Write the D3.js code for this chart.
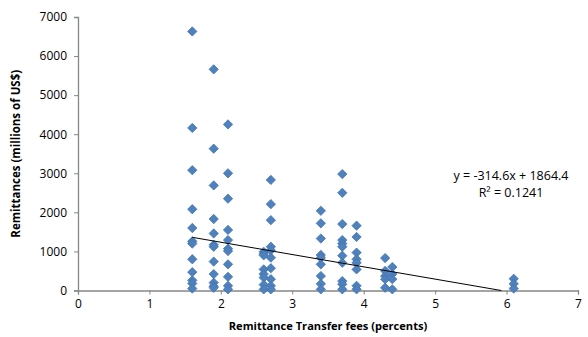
<!DOCTYPE html>
<html>
<head>
<meta charset="utf-8">
<script src="https://cdn.jsdelivr.net/npm/d3@7"></script>
<style>
  body { margin: 0; background: #fff; }
  text { font-family: "Open Sans", "Liberation Sans", sans-serif; }
</style>
</head>
<body>
<div id="chart"></div>
<script>
// Remittances vs transfer fees, with Excel-style linear trendline

// fee level of each column of points (percent)
const fees = [1.6, 1.9, 2.1, 2.6, 2.7, 3.4, 3.7, 3.9, 4.3, 4.4, 6.1];

// remittances (millions of US$), one list per fee level
const remittances = [
    [6630, 4160, 3080, 2080, 1600, 1260, 1200, 800, 470, 260, 180, 50],
    [5660, 3630, 2690, 1830, 1460, 1170, 1120, 740, 420, 200, 110, 70],
    [4250, 3000, 2350, 1550, 1290, 1070, 1010, 670, 350, 120, 30],
    [990, 940, 900, 540, 420, 330, 150, 30],
    [2830, 2210, 1800, 1120, 1030, 840, 570, 290, 120, 30],
    [2040, 1720, 1330, 910, 840, 670, 370, 170, 30],
    [2980, 2500, 1700, 1290, 1200, 1120, 890, 710, 240, 160, 30],
    [1660, 1370, 970, 800, 710, 540, 120, 30],
    [830, 500, 370, 290, 70],
    [600, 420, 290, 30],
    [300, 170, 50]
];

const xTicks = [0, 1, 2, 3, 4, 5, 6, 7];
const yTicks = [0, 1000, 2000, 3000, 4000, 5000, 6000, 7000];

const slope = -314.6;
const intercept = 1864.4;
const equationLines = ['y = -314.6x + 1864.4', 'R\u00b2 = 0.1241'];

const points = fees.flatMap((f, i) => remittances[i].map(v => ({fee: f, value: v})));

const W = 588, H = 337;
const margin = {top: 17, right: 10, bottom: 47, left: 78};

const svg = d3.select('#chart').append('svg')
    .attr('width', W)
    .attr('height', H);

const x = d3.scaleLinear().domain([0, 7]).range([margin.left, 578]);
const y = d3.scaleLinear().domain([0, 7000]).range([H - margin.bottom + 0.5, margin.top]);

const axisColor = '#868686';

// axes
const xAxis = svg.append('g')
    .attr('transform', `translate(0,${y(0)})`)
    .call(d3.axisBottom(x).tickValues(xTicks).tickSize(4).tickPadding(5).tickFormat(d3.format('d')));

const yAxis = svg.append('g')
    .attr('transform', `translate(${x(0)},0)`)
    .call(d3.axisLeft(y).tickValues(yTicks).tickSize(4).tickPadding(7).tickFormat(d3.format('d')));

[xAxis, yAxis].forEach(g => {
    g.select('.domain').attr('stroke', axisColor).attr('stroke-width', 1.3);
    g.selectAll('.tick line').attr('stroke', axisColor);
    g.selectAll('.tick text')
        .attr('fill', '#000')
        .style('font-size', '12px')
        .style('font-family', '"Open Sans", sans-serif');
});

// points
const diamond = d3.symbol().type(d3.symbolDiamond2).size(55);
svg.append('g')
    .selectAll('path')
    .data(points)
    .enter()
    .append('path')
    .attr('d', diamond)
    .attr('transform', d => `translate(${x(d.fee)},${y(d.value)})`)
    .attr('fill', '#4f81bd')
    .attr('stroke', '#4275b2')
    .attr('stroke-width', 0.8);

// trendline from smallest fee down to where it meets the x axis
const xStart = d3.min(fees);
const xEnd = Math.min(d3.max(fees), -intercept / slope);
svg.append('line')
    .attr('x1', x(xStart))
    .attr('y1', y(slope * xStart + intercept))
    .attr('x2', x(xEnd))
    .attr('y2', y(slope * xEnd + intercept))
    .attr('stroke', '#000')
    .attr('stroke-width', 1);

// equation label
svg.append('g')
    .selectAll('text')
    .data(equationLines)
    .enter()
    .append('text')
    .attr('x', 511)
    .attr('y', (d, i) => 180 + i * 17)
    .attr('text-anchor', 'middle')
    .style('font-size', '12.5px')
    .text(d => d);

// axis titles
svg.append('text')
    .attr('x', (x(0) + x(7)) / 2)
    .attr('y', 330)
    .attr('text-anchor', 'middle')
    .style('font-size', '11.1px')
    .style('font-weight', 'bold')
    .text('Remittance Transfer fees (percents)');

svg.append('text')
    .attr('transform', 'rotate(-90)')
    .attr('x', -(y(0) + y(7000)) / 2)
    .attr('y', 20)
    .attr('text-anchor', 'middle')
    .style('font-size', '11.5px')
    .style('font-weight', 'bold')
    .text('Remittances (millions of US$)');
</script>
</body>
</html>
